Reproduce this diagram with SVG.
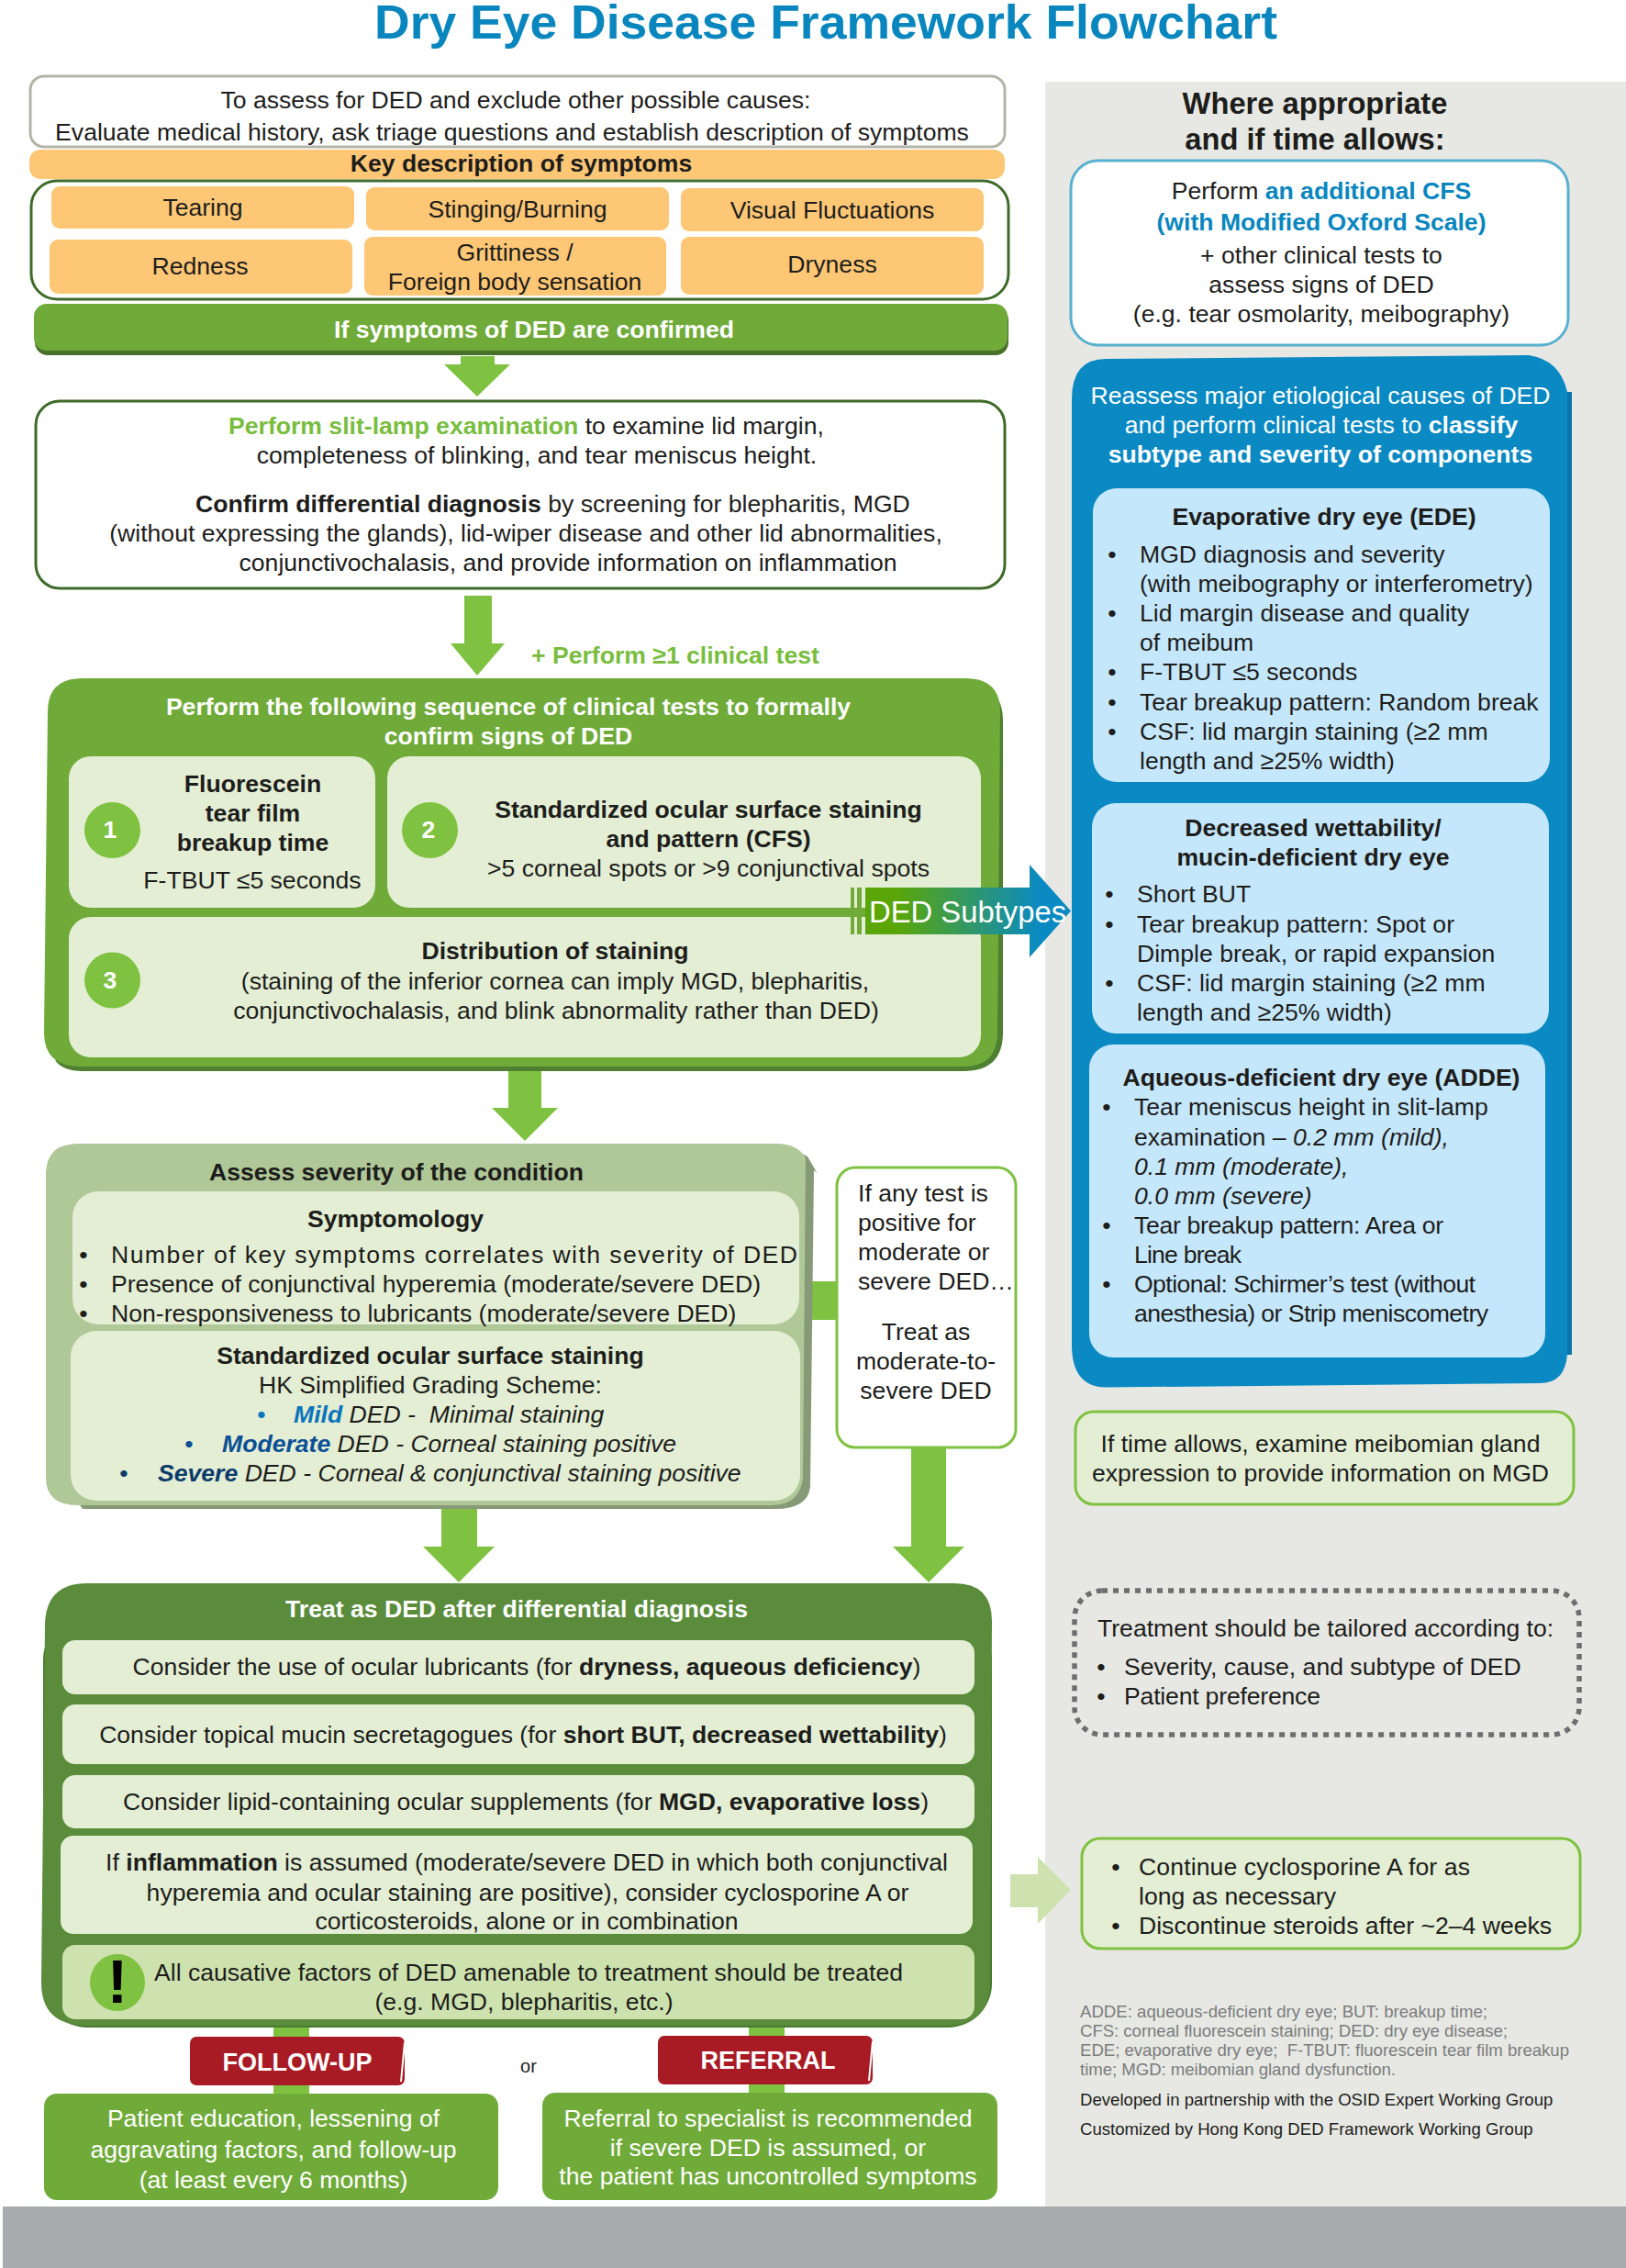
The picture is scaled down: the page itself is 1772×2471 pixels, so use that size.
<svg xmlns="http://www.w3.org/2000/svg" width="1772" height="2471" viewBox="0 0 1772 2471">
<style>
text{font-family:"Liberation Sans",Arial,sans-serif;font-size:26.6px;fill:#1d1d1b}
.c{text-anchor:middle}
.b{font-weight:700}
.i{font-style:italic}
.w{fill:#fff}
.g{fill:#79bd3f}
.bl{fill:#0a86be}
.arrow{fill:#7fc241}
.light{fill:#e3eed4}
.fn{font-size:18.6px;fill:#7a7c7e}
.fk{font-size:18.6px;fill:#1d1d1b}
.orange{fill:#fdc776}
.red{fill:#a81a24}
.blue{fill:#c5e7fb}
</style>
<defs>
<linearGradient id="ded" x1="0" x2="1" y1="0" y2="0"><stop offset="0.15" stop-color="#5aa608"/><stop offset="0.85" stop-color="#0a8ac2"/></linearGradient>
</defs>
<g id="background">
<rect x="1139" y="89" width="633" height="2316" fill="#e7e8e3"/>
<rect x="3" y="2404" width="1769" height="67" fill="#a9aaad"/>
</g>
<text id="title" x="900" y="42" class="c b" style="font-size:52px;fill:#0a86be" textLength="984" lengthAdjust="spacingAndGlyphs">Dry Eye Disease Framework Flowchart</text>
<g id="connectors">
<path class="arrow" d="M502 388H539V397H556L520 432L484 397H502Z"/>
<path class="arrow" d="M506 649H536V701H550L520 736L491 701H506Z"/>
<path class="arrow" d="M554 1160H590V1207H608L572 1243L536 1207H554Z"/>
<path class="arrow" d="M481 1640H520V1685H539L500 1724L461 1685H481Z"/>
<path class="arrow" d="M993 1575H1031V1685H1051L1012 1724L973 1685H993Z"/>
<rect class="arrow" x="880" y="1396" width="33" height="42"/>
<path fill="#cde2ae" d="M1101 2042H1131V2023L1167 2059L1131 2096V2078H1101Z"/>
<rect class="arrow" x="298" y="2205" width="39" height="78"/>
<rect class="arrow" x="816" y="2205" width="39" height="78"/>
</g>
<g id="assess-box"><rect x="33" y="83" width="1062" height="77" rx="15" fill="#fff" stroke="#b5b4a9" stroke-width="3"/>
<text x="562" y="118" class="c">To assess for DED and exclude other possible causes:</text>
<text x="558" y="153" class="c">Evaluate medical history, ask triage questions and establish description of symptoms</text></g>
<g id="key-title"><rect x="32" y="163" width="1063" height="32" rx="12" class="orange"/>
<text x="568" y="187" class="c b">Key description of symptoms</text></g>
<g id="symptoms"><rect x="34" y="197" width="1065" height="129" rx="28" fill="#fff" stroke="#3f6b2a" stroke-width="3"/></g>
<g id="s-tearing"><rect x="56" y="203" width="330" height="46" rx="9" class="orange"/><text x="221" y="235" class="c">Tearing</text></g>
<g id="s-stinging"><rect x="399" y="204" width="330" height="47" rx="9" class="orange"/><text x="564" y="237" class="c">Stinging/Burning</text></g>
<g id="s-visual"><rect x="742" y="205" width="330" height="47" rx="9" class="orange"/><text x="907" y="238" class="c">Visual Fluctuations</text></g>
<g id="s-redness"><rect x="54" y="261" width="330" height="59" rx="9" class="orange"/><text x="218" y="299" class="c">Redness</text></g>
<g id="s-grittiness"><rect x="397" y="258" width="329" height="64" rx="9" class="orange"/><text x="561" y="284" class="c">Grittiness /</text><text x="561" y="316" class="c">Foreign body sensation</text></g>
<g id="s-dryness"><rect x="742" y="258" width="330" height="63" rx="9" class="orange"/><text x="907" y="297" class="c">Dryness</text></g>
<g id="confirmed"><rect x="38" y="335" width="1061" height="52" rx="14" fill="#47702a"/><rect x="37" y="331" width="1061" height="51" rx="14" fill="#70ab3a"/>
<text x="582" y="368" class="c b w">If symptoms of DED are confirmed</text></g>
<g id="slit-lamp"><rect x="39" y="437" width="1056" height="204" rx="26" fill="#fff" stroke="#3f6b2a" stroke-width="3"/>
<text x="249" y="473"><tspan class="b g">Perform slit-lamp examination</tspan> to examine lid margin,</text>
<text x="585" y="505" class="c">completeness of blinking, and tear meniscus height.</text>
<text x="213" y="558"><tspan class="b">Confirm differential diagnosis</tspan> by screening for blepharitis, MGD</text>
<text x="573" y="590" class="c">(without expressing the glands), lid-wiper disease and other lid abnormalities,</text>
<text x="619" y="622" class="c">conjunctivochalasis, and provide information on inflammation</text></g>
<text id="perform-label" x="579" y="723" class="b g">+ Perform ≥1 clinical test</text>
<g id="clinical-tests"><path fill="#4f7f30" d="M1060 745Q1093 750 1093 785V1125Q1093 1167 1050 1167H90Q68 1167 60 1155L1000 1100Z"/>
<path fill="#70ab3a" d="M90 739H1052Q1090 739 1090 775L1087 1125Q1087 1162 1050 1162H88Q48 1162 48 1125L52 775Q52 739 90 739Z"/>
<text x="554" y="779" class="c b w">Perform the following sequence of clinical tests to formally</text>
<text x="554" y="811" class="c b w">confirm signs of DED</text></g>
<g id="test-1"><rect x="75" y="824" width="334" height="165" rx="24" class="light"/><circle cx="122.500" cy="904.500" r="30.500" fill="#7fc241"/><text x="120" y="913" class="c b w">1</text>
<text x="275.500" y="863" class="c b">Fluorescein</text><text x="275.500" y="895" class="c b">tear film</text><text x="275.500" y="927" class="c b">breakup time</text><text x="275" y="968" class="c">F-TBUT ≤5 seconds</text></g>
<g id="test-2"><rect x="422" y="824" width="647" height="165" rx="24" class="light"/><circle cx="468.500" cy="904.500" r="30.500" fill="#7fc241"/><text x="467" y="913" class="c b w">2</text>
<text x="772" y="891" class="c b">Standardized ocular surface staining</text><text x="772" y="923" class="c b">and pattern (CFS)</text><text x="772" y="955" class="c">&gt;5 corneal spots or &gt;9 conjunctival spots</text></g>
<g id="test-3"><rect x="75" y="999" width="994" height="153" rx="24" class="light"/><circle cx="122.500" cy="1068" r="30.500" fill="#7fc241"/><text x="120" y="1077" class="c b w">3</text>
<text x="605" y="1045" class="c b">Distribution of staining</text><text x="605" y="1078" class="c">(staining of the inferior cornea can imply MGD, blepharitis,</text><text x="606" y="1110" class="c">conjunctivochalasis, and blink abnormality rather than DED)</text></g>
<g id="ded-subtypes"><path fill="url(#ded)" d="M943 967H1122V942L1167 992.500L1122 1043V1018H943Z"/>
<path fill="#70ab3a" d="M927 967H931V1018H927ZM934 967H939V1018H934ZM915 989H943V999H915Z"/>
<text x="947" y="1005" class="w" style="font-size:32.800px">DED Subtypes</text></g>
<g id="severity"><path fill="#879a77" d="M860 1250L880 1260L890.500 1278L887 1275L883 1620Q880 1644 845 1644H90L80 1630Z"/><path fill="#b0c798" d="M85 1246H845Q870 1246 878 1262L875 1610Q872 1640 840 1640H85Q50 1640 50 1610V1280Q50 1246 85 1246Z"/>
<text x="432" y="1286" class="c b">Assess severity of the condition</text></g>
<g id="symptomology"><rect x="79" y="1298" width="792" height="145" rx="28" class="light"/>
<text x="431" y="1337" class="c b">Symptomology</text>
<text x="91" y="1376" class="c">•</text><text x="121" y="1376" textLength="748">Number of key symptoms correlates with severity of DED</text>
<text x="91" y="1408" class="c">•</text><text x="121" y="1408">Presence of conjunctival hyperemia (moderate/severe DED)</text>
<text x="91" y="1440" class="c">•</text><text x="121" y="1440">Non-responsiveness to lubricants (moderate/severe DED)</text></g>
<g id="staining"><rect x="77" y="1450" width="795" height="185" rx="28" class="light"/>
<text x="469" y="1486" class="c b">Standardized ocular surface staining</text>
<text x="469" y="1518" class="c">HK Simplified Grading Scheme:</text>
<text x="285" y="1550" class="c" style="fill:#0a74bb">•</text><text x="320" y="1550" class="i" xml:space="preserve"><tspan class="b" style="fill:#0a74bb">Mild</tspan> DED -  Minimal staining</text>
<text x="206" y="1582" class="c" style="fill:#0b4f94">•</text><text x="242" y="1582" class="i"><tspan class="b" style="fill:#0b4f94">Moderate</tspan> DED - Corneal staining positive</text>
<text x="135" y="1614" class="c" style="fill:#0c3a6b">•</text><text x="172" y="1614" class="i"><tspan class="b" style="fill:#0c3a6b">Severe</tspan> DED - Corneal &amp; conjunctival staining positive</text></g>
<g id="any-test"><rect x="912" y="1272" width="195" height="305" rx="20" fill="#fff" stroke="#7fc241" stroke-width="3"/>
<text x="935" y="1309">If any test is</text><text x="935" y="1341">positive for</text><text x="935" y="1373">moderate or</text><text x="935" y="1405">severe DED…</text>
<text x="1009" y="1460" class="c">Treat as</text><text x="1009" y="1492" class="c">moderate-to-</text><text x="1009" y="1524" class="c">severe DED</text></g>
<g id="treat"><rect x="47" y="1760" width="1034" height="449" rx="48" fill="#467a2c"/><path fill="#5a8c3b" d="M95 1725H1040Q1081 1725 1081 1766L1079 2160Q1079 2207 1030 2207H95Q45 2207 45 2160L49 1770Q50 1725 95 1725Z"/>
<text x="563" y="1762" class="c b w">Treat as DED after differential diagnosis</text></g>
<g id="t-lubricants"><rect x="68" y="1787" width="994" height="59" rx="14" class="light"/><text x="574" y="1825" class="c">Consider the use of ocular lubricants (for <tspan class="b">dryness, aqueous deficiency</tspan>)</text></g>
<g id="t-mucin"><rect x="68" y="1857" width="994" height="65" rx="14" class="light"/><text x="570" y="1899" class="c">Consider topical mucin secretagogues (for <tspan class="b">short BUT, decreased wettability</tspan>)</text></g>
<g id="t-lipid"><rect x="68" y="1934" width="994" height="58" rx="14" class="light"/><text x="573" y="1972" class="c">Consider lipid-containing ocular supplements (for <tspan class="b">MGD, evaporative loss</tspan>)</text></g>
<g id="t-inflammation"><rect x="66" y="2000" width="994" height="107" rx="14" class="light"/><text x="574" y="2038" class="c">If <tspan class="b">inflammation</tspan> is assumed (moderate/severe DED in which both conjunctival</text><text x="575" y="2071" class="c">hyperemia and ocular staining are positive), consider cyclosporine A or</text><text x="574" y="2102" class="c">corticosteroids, alone or in combination</text></g>
<g id="t-causes"><rect x="68" y="2119" width="994" height="81" rx="14" fill="#cde2ae"/><ellipse cx="128" cy="2160" rx="30" ry="31" fill="#7fc241"/><text x="128" y="2182" class="c b" style="font-size:67px;fill:#000">!</text>
<text x="576" y="2158" class="c">All causative factors of DED amenable to treatment should be treated</text><text x="571" y="2190" class="c">(e.g. MGD, blepharitis, etc.)</text></g>
<g id="follow-up"><rect x="207" y="2219" width="234" height="53" rx="7" class="red"/><path d="M441 2225L437 2268" stroke="#fff" stroke-width="2"/><text x="324" y="2256" class="c b w" style="font-size:27px">FOLLOW-UP</text></g>
<text id="or" x="576" y="2258" class="c" style="font-size:20px">or</text>
<g id="referral"><rect x="717" y="2218" width="234" height="53" rx="7" class="red"/><path d="M951 2224L947 2267" stroke="#fff" stroke-width="2"/><text x="837" y="2254" class="c b w" style="font-size:27px">REFERRAL</text></g>
<g id="follow-text"><rect x="48" y="2281" width="495" height="116" rx="14" fill="#70ab3a"/><text x="298" y="2317" class="c w">Patient education, lessening of</text><text x="298" y="2351" class="c w">aggravating factors, and follow-up</text><text x="298" y="2384" class="c w">(at least every 6 months)</text></g>
<g id="referral-text"><rect x="591" y="2280" width="496" height="117" rx="14" fill="#70ab3a"/><text x="837" y="2317" class="c w">Referral to specialist is recommended</text><text x="837" y="2349" class="c w">if severe DED is assumed, or</text><text x="837" y="2380" class="c w">the patient has uncontrolled symptoms</text></g>
<text x="1433" y="124" class="c b" style="font-size:32.700px">Where appropriate</text>
<text x="1433" y="163" class="c b" style="font-size:32.700px">and if time allows:</text>
<g id="additional"><rect x="1167" y="175" width="542" height="201" rx="30" fill="#fff" stroke="#58b0d0" stroke-width="3"/>
<text x="1440" y="217" class="c">Perform <tspan class="b bl">an additional CFS</tspan></text>
<text x="1440" y="251" class="c b bl">(with Modified Oxford Scale)</text>
<text x="1440" y="287" class="c">+ other clinical tests to</text>
<text x="1440" y="319" class="c">assess signs of DED</text>
<text x="1440" y="351" class="c">(e.g. tear osmolarity, meibography)</text></g>
<g id="reassess"><rect x="1700" y="427" width="13" height="1049" fill="#0a76a8"/><path fill="#0a89c3" d="M1205 391L1666 387Q1700 392 1708 427V1475Q1706 1507 1678 1507L1205 1511.500Q1168 1511 1168 1465V435Q1168 391 1205 391Z"/>
<text x="1439" y="440" class="c w">Reassess major etiological causes of DED</text>
<text x="1440" y="472" class="c w">and perform clinical tests to <tspan class="b w">classify</tspan></text>
<text x="1439" y="504" class="c b w">subtype and severity of components</text></g>
<g id="ede"><rect x="1191" y="532" width="498" height="320" rx="26" class="blue"/>
<text x="1443" y="572" class="c b">Evaporative dry eye (EDE)</text>
<text x="1212" y="613" class="c">•</text><text x="1242" y="613">MGD diagnosis and severity</text>
<text x="1242" y="645">(with meibography or interferometry)</text>
<text x="1212" y="677" class="c">•</text><text x="1242" y="677">Lid margin disease and quality</text>
<text x="1242" y="709">of meibum</text>
<text x="1212" y="741" class="c">•</text><text x="1242" y="741">F-TBUT ≤5 seconds</text>
<text x="1212" y="774" class="c">•</text><text x="1242" y="774">Tear breakup pattern: Random break</text>
<text x="1212" y="806" class="c">•</text><text x="1242" y="806">CSF: lid margin staining (≥2 mm</text>
<text x="1242" y="838">length and ≥25% width)</text></g>
<g id="mucin"><rect x="1190" y="875" width="498" height="251" rx="26" class="blue"/>
<text x="1431" y="911" class="c b">Decreased wettability/</text><text x="1431" y="943" class="c b">mucin-deficient dry eye</text>
<text x="1209" y="983" class="c">•</text><text x="1239" y="983">Short BUT</text>
<text x="1209" y="1016" class="c">•</text><text x="1239" y="1016" textLength="346">Tear breakup pattern: Spot or</text>
<text x="1239" y="1048">Dimple break, or rapid expansion</text>
<text x="1209" y="1080" class="c">•</text><text x="1239" y="1080">CSF: lid margin staining (≥2 mm</text>
<text x="1239" y="1112">length and ≥25% width)</text></g>
<g id="adde"><rect x="1187" y="1138" width="497" height="341" rx="26" class="blue"/>
<text x="1440" y="1183" class="c b">Aqueous-deficient dry eye (ADDE)</text>
<text x="1206" y="1215" class="c">•</text><text x="1236" y="1215">Tear meniscus height in slit-lamp</text>
<text x="1236" y="1248">examination – <tspan class="i">0.2 mm (mild),</tspan></text>
<text x="1236" y="1280" class="i">0.1 mm (moderate),</text>
<text x="1236" y="1312" class="i">0.0 mm (severe)</text>
<text x="1206" y="1344" class="c">•</text><text x="1236" y="1344" textLength="337">Tear breakup pattern: Area or</text>
<text x="1236" y="1376" textLength="117">Line break</text>
<text x="1206" y="1408" class="c">•</text><text x="1236" y="1408" textLength="372">Optional: Schirmer’s test (without</text>
<text x="1236" y="1440" textLength="386">anesthesia) or Strip meniscometry</text></g>
<g id="meibomian"><rect x="1172" y="1538" width="543" height="101" rx="20" class="light" stroke="#7fc241" stroke-width="3"/>
<text x="1439" y="1582" class="c">If time allows, examine meibomian gland</text>
<text x="1439" y="1614" class="c">expression to provide information on MGD</text></g>
<g id="tailored"><rect x="1171" y="1733" width="550" height="157" rx="30" fill="none" stroke="#6c6e70" stroke-width="5.500" stroke-dasharray="6 6"/>
<text x="1196" y="1783">Treatment should be tailored according to:</text>
<text x="1200" y="1825" class="c">•</text><text x="1225" y="1825">Severity, cause, and subtype of DED</text>
<text x="1200" y="1857" class="c">•</text><text x="1225" y="1857" textLength="214">Patient preference</text></g>
<g id="continue"><rect x="1179" y="2003" width="543" height="120" rx="20" class="light" stroke="#7fc241" stroke-width="3"/>
<text x="1216" y="2043" class="c">•</text><text x="1241" y="2043" textLength="361">Continue cyclosporine A for as</text>
<text x="1241" y="2075" textLength="215">long as necessary</text>
<text x="1216" y="2107" class="c">•</text><text x="1241" y="2107">Discontinue steroids after ~2–4 weeks</text></g>
<g id="footnotes">
<text x="1177" y="2198" class="fn" textLength="444">ADDE: aqueous-deficient dry eye; BUT: breakup time;</text>
<text x="1177" y="2219" class="fn" textLength="466">CFS: corneal fluorescein staining; DED: dry eye disease;</text>
<text x="1177" y="2240" class="fn" textLength="533" xml:space="preserve">EDE; evaporative dry eye;  F-TBUT: fluorescein tear film breakup</text>
<text x="1177" y="2261" class="fn" textLength="344">time; MGD: meibomian gland dysfunction.</text>
<text x="1177" y="2294" class="fk">Developed in partnership with the OSID Expert Working Group</text>
<text x="1177" y="2326" class="fk">Customized by Hong Kong DED Framework Working Group</text>
</g>
</svg>
